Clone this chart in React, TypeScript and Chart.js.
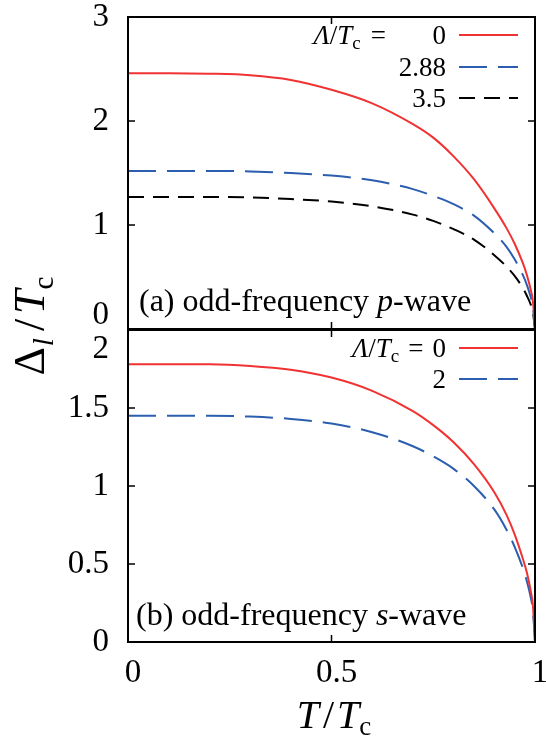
import React, { useEffect, useRef } from 'react';
import { Chart, registerables } from 'chart.js';

Chart.register(...registerables);

// ---------- data ----------
const T_VALUES = [0, 0.1, 0.2, 0.3, 0.4, 0.5, 0.6, 0.7, 0.75, 0.8, 0.85, 0.9, 0.93, 0.95, 0.97, 0.98, 0.99, 0.995, 1];

// (a) odd-frequency p-wave
const P_LAMBDA_0 = [2.46, 2.46, 2.455, 2.44, 2.395, 2.3, 2.17, 1.97, 1.84, 1.66, 1.44, 1.16, 0.97, 0.82, 0.635, 0.52, 0.37, 0.26, 0];
const P_LAMBDA_288 = [1.52, 1.52, 1.52, 1.515, 1.5, 1.475, 1.43, 1.345, 1.28, 1.2, 1.09, 0.92, 0.79, 0.67, 0.52, 0.425, 0.3, 0.21, 0];
const P_LAMBDA_35 = [1.27, 1.27, 1.27, 1.265, 1.25, 1.225, 1.18, 1.1, 1.04, 0.96, 0.86, 0.71, 0.6, 0.51, 0.395, 0.32, 0.23, 0.16, 0];

// (b) odd-frequency s-wave
const S_LAMBDA_0 = [1.78, 1.78, 1.78, 1.77, 1.745, 1.695, 1.61, 1.48, 1.39, 1.28, 1.14, 0.96, 0.815, 0.69, 0.535, 0.445, 0.32, 0.23, 0];
const S_LAMBDA_2 = [1.45, 1.45, 1.45, 1.445, 1.43, 1.4, 1.345, 1.255, 1.19, 1.11, 1.0, 0.85, 0.72, 0.61, 0.475, 0.39, 0.28, 0.2, 0];

const X_TICKS = [0, 0.5, 1];
const TOP_Y_MAX = 3;
const TOP_Y_STEP = 1;
const BOTTOM_Y_MAX = 2;
const BOTTOM_Y_STEP = 0.5;

const TOP_LEGEND_LABELS = ['0', '2.88', '3.5'];
const BOTTOM_LEGEND_LABELS = ['0', '2'];

// ---------- styles ----------
const FAMILY = '"Liberation Serif", "Times New Roman", serif';
const RED = '#f03232';
const BLUE = '#2c5eb0';
const BLACK = '#000000';
const BLUE_DASH = [28, 11];
const BLACK_DASH = [16, 9];

Chart.defaults.font.family = FAMILY;
Chart.defaults.color = '#000';

const font = (size: number, italic = false) => `${italic ? 'italic ' : ''}${size}px ${FAMILY}`;

type Part = { t: string; s: number; i?: boolean; dy?: number; pl?: number; pr?: number };

function drawRich(ctx: CanvasRenderingContext2D, parts: Part[], x: number, y: number, align: 'left' | 'right' | 'center') {
  let total = 0;
  const ws = parts.map((p) => {
    ctx.font = font(p.s, p.i);
    const w = ctx.measureText(p.t).width + (p.pl || 0) + (p.pr || 0);
    total += w;
    return w;
  });
  let cx = align === 'left' ? x : align === 'right' ? x - total : x - total / 2;
  ctx.textAlign = 'left';
  ctx.textBaseline = 'alphabetic';
  parts.forEach((p, k) => {
    ctx.font = font(p.s, p.i);
    ctx.fillText(p.t, cx + (p.pl || 0), y + (p.dy || 0));
    cx += ws[k];
  });
}

const pts = (ys: number[]) => T_VALUES.map((t, i) => ({ x: t, y: ys[i] }));

function lineDs(ys: number[], color: string, dash: number[]) {
  return {
    data: pts(ys),
    borderColor: color,
    borderWidth: 2,
    borderDash: dash,
    pointRadius: 0,
    fill: false,
    cubicInterpolationMode: 'monotone' as const,
  };
}

type LegendRow = { label: Part[]; color: string; dash: number[]; y: number };

function makeOverlay(opts: {
  pageTop: number; // page y of chart area top
  legend: LegendRow[];
  header?: { parts: Part[]; x: number; y: number };
  note: { parts: Part[]; x: number; y: number };
  extra?: (ctx: CanvasRenderingContext2D, off: number, chart: any) => void;
}) {
  return {
    id: 'overlay',
    afterDraw(chart: any) {
      const { ctx, chartArea: a, scales } = chart;
      const off = a.top - opts.pageTop; // canvas y = page y + off
      ctx.save();
      // frame
      ctx.strokeStyle = '#000';
      ctx.lineWidth = 2;
      ctx.setLineDash([]);
      ctx.strokeRect(a.left, a.top, a.right - a.left, a.bottom - a.top);
      // inward ticks
      const L = 7;
      ctx.lineWidth = 1.5;
      ctx.beginPath();
      for (const v of X_TICKS) {
        const px = scales.x.getPixelForValue(v);
        ctx.moveTo(px, a.bottom);
        ctx.lineTo(px, a.bottom - L);
        ctx.moveTo(px, a.top);
        ctx.lineTo(px, a.top + L);
      }
      for (const t of scales.y.ticks) {
        const py = scales.y.getPixelForValue(t.value);
        ctx.moveTo(a.left, py);
        ctx.lineTo(a.left + L, py);
        ctx.moveTo(a.right, py);
        ctx.lineTo(a.right - L, py);
      }
      ctx.stroke();
      // legend
      ctx.fillStyle = '#000';
      if (opts.header) drawRich(ctx, opts.header.parts, opts.header.x, opts.header.y + off, 'right');
      for (const r of opts.legend) {
        drawRich(ctx, r.label, 446, r.y + off + 9, 'right');
        ctx.strokeStyle = r.color;
        ctx.lineWidth = 2;
        ctx.setLineDash(r.dash);
        ctx.beginPath();
        ctx.moveTo(459, r.y + off);
        ctx.lineTo(518, r.y + off);
        ctx.stroke();
      }
      ctx.setLineDash([]);
      // panel note
      ctx.fillStyle = '#000';
      drawRich(ctx, opts.note.parts, opts.note.x, opts.note.y + off, 'left');
      if (opts.extra) opts.extra(ctx, off, chart);
      ctx.restore();
    },
  };
}

const LEG = 27;
const NOTE = 32;
const lambdaParts = (): Part[] => [
  { t: 'Λ', s: LEG, i: true },
  { t: '/', s: LEG },
  { t: 'T', s: LEG, i: true },
  { t: 'c', s: 19, dy: 5 },
];

export default function App() {
  const topRef = useRef<HTMLCanvasElement>(null);
  const botRef = useRef<HTMLCanvasElement>(null);

  useEffect(() => {
    const topTickFont = { family: FAMILY, size: 33, lineHeight: 0.85 };
    const botTickFont = { family: FAMILY, size: 33, lineHeight: 1.2 };

    const topOverlay = makeOverlay({
      pageTop: 17,
      header: { parts: [...lambdaParts(), { t: '=', s: LEG, pl: 10 }], x: 386, y: 44 },
      legend: [
        { label: [{ t: TOP_LEGEND_LABELS[0], s: LEG }], color: RED, dash: [], y: 35 },
        { label: [{ t: TOP_LEGEND_LABELS[1], s: LEG }], color: BLUE, dash: BLUE_DASH, y: 67 },
        { label: [{ t: TOP_LEGEND_LABELS[2], s: LEG }], color: BLACK, dash: BLACK_DASH, y: 98 },
      ],
      note: {
        parts: [
          { t: '(a) odd-frequency ', s: NOTE },
          { t: 'p', s: NOTE, i: true },
          { t: '-wave', s: NOTE },
        ],
        x: 139,
        y: 311,
      },
    });

    const botOverlay = makeOverlay({
      pageTop: 330,
      legend: [
        {
          label: [...lambdaParts(), { t: '=', s: LEG, pl: 9 }, { t: BOTTOM_LEGEND_LABELS[0], s: LEG, pl: 9 }],
          color: RED,
          dash: [],
          y: 348,
        },
        { label: [{ t: BOTTOM_LEGEND_LABELS[1], s: LEG }], color: BLUE, dash: BLUE_DASH, y: 379 },
      ],
      note: {
        parts: [
          { t: '(b) odd-frequency ', s: NOTE },
          { t: 's', s: NOTE, i: true },
          { t: '-wave', s: NOTE },
        ],
        x: 136,
        y: 625,
      },
      extra: (ctx, off) => {
        ctx.fillStyle = '#000';
        // x-axis title
        drawRich(
          ctx,
          [
            { t: 'T', s: 40, i: true },
            { t: '/', s: 40, pl: 4, pr: 3 },
            { t: 'T', s: 40, i: true },
            { t: 'c', s: 27, dy: 7 },
          ],
          334,
          728 + off,
          'center'
        );
        // y-axis title (rotated)
        ctx.save();
        ctx.translate(44, 326 + off);
        ctx.rotate(-Math.PI / 2);
        drawRich(
          ctx,
          [
            { t: 'Δ', s: 44 },
            { t: 'l', s: 29, i: true, dy: 9, pl: 1, pr: 2 },
            { t: '/', s: 44, pl: 5, pr: 5 },
            { t: 'T', s: 44, i: true },
            { t: 'c', s: 29, dy: 9 },
          ],
          0,
          0,
          'center'
        );
        ctx.restore();
      },
    });

    const top = new Chart(topRef.current as HTMLCanvasElement, {
      type: 'line',
      data: {
        datasets: [
          lineDs(P_LAMBDA_0, RED, []),
          lineDs(P_LAMBDA_288, BLUE, BLUE_DASH),
          lineDs(P_LAMBDA_35, BLACK, BLACK_DASH),
        ],
      },
      options: {
        responsive: false,
        animation: false,
        layout: { padding: { top: 57, bottom: 71, left: 0, right: 31 } },
        plugins: { legend: { display: false }, tooltip: { enabled: false } },
        scales: {
          x: { type: 'linear', min: 0, max: 1, display: false },
          y: {
            type: 'linear',
            min: 0,
            max: TOP_Y_MAX,
            afterFit: (s: any) => {
              s.width = 128;
            },
            grid: { display: false },
            border: { display: false },
            ticks: {
              stepSize: TOP_Y_STEP,
              padding: 11,
              autoSkip: false,
              color: '#000',
              font: topTickFont,
              callback: (v: any) => (v === 0 ? ['0', ''] : String(v)),
            },
          },
        },
      } as any,
      plugins: [topOverlay as any],
    });

    const bot = new Chart(botRef.current as HTMLCanvasElement, {
      type: 'line',
      data: {
        datasets: [lineDs(S_LAMBDA_0, RED, []), lineDs(S_LAMBDA_2, BLUE, BLUE_DASH)],
      },
      options: {
        responsive: false,
        animation: false,
        layout: { padding: { top: 130, bottom: 0, left: 0, right: 31 } },
        plugins: { legend: { display: false }, tooltip: { enabled: false } },
        scales: {
          x: {
            type: 'linear',
            min: 0,
            max: 1,
            afterFit: (s: any) => {
              s.height = 98;
            },
            grid: { display: false },
            border: { display: false },
            ticks: {
              stepSize: 0.5,
              padding: 5,
              labelOffset: 5,
              maxRotation: 0,
              autoSkip: false,
              color: '#000',
              font: { family: FAMILY, size: 33, lineHeight: 1.1 },
              callback: (v: any) => String(v),
            },
          },
          y: {
            type: 'linear',
            min: 0,
            max: BOTTOM_Y_MAX,
            afterFit: (s: any) => {
              s.width = 128;
            },
            grid: { display: false },
            border: { display: false },
            ticks: {
              stepSize: BOTTOM_Y_STEP,
              padding: 11,
              autoSkip: false,
              color: '#000',
              font: botTickFont,
              callback: (v: any) => (v === BOTTOM_Y_MAX ? ['', String(v)] : String(v)),
            },
          },
        },
      } as any,
      plugins: [botOverlay as any],
    });

    return () => {
      top.destroy();
      bot.destroy();
    };
  }, []);

  return (
    <div
      style={{
        position: 'absolute',
        left: 0,
        top: 0,
        width: 546,
        height: 740,
        overflow: 'hidden',
        background: '#fff',
      }}
    >
      <canvas ref={topRef} width={566} height={440} style={{ position: 'absolute', left: 0, top: -40 }} />
      <canvas ref={botRef} width={566} height={540} style={{ position: 'absolute', left: 0, top: 200 }} />
    </div>
  );
}
